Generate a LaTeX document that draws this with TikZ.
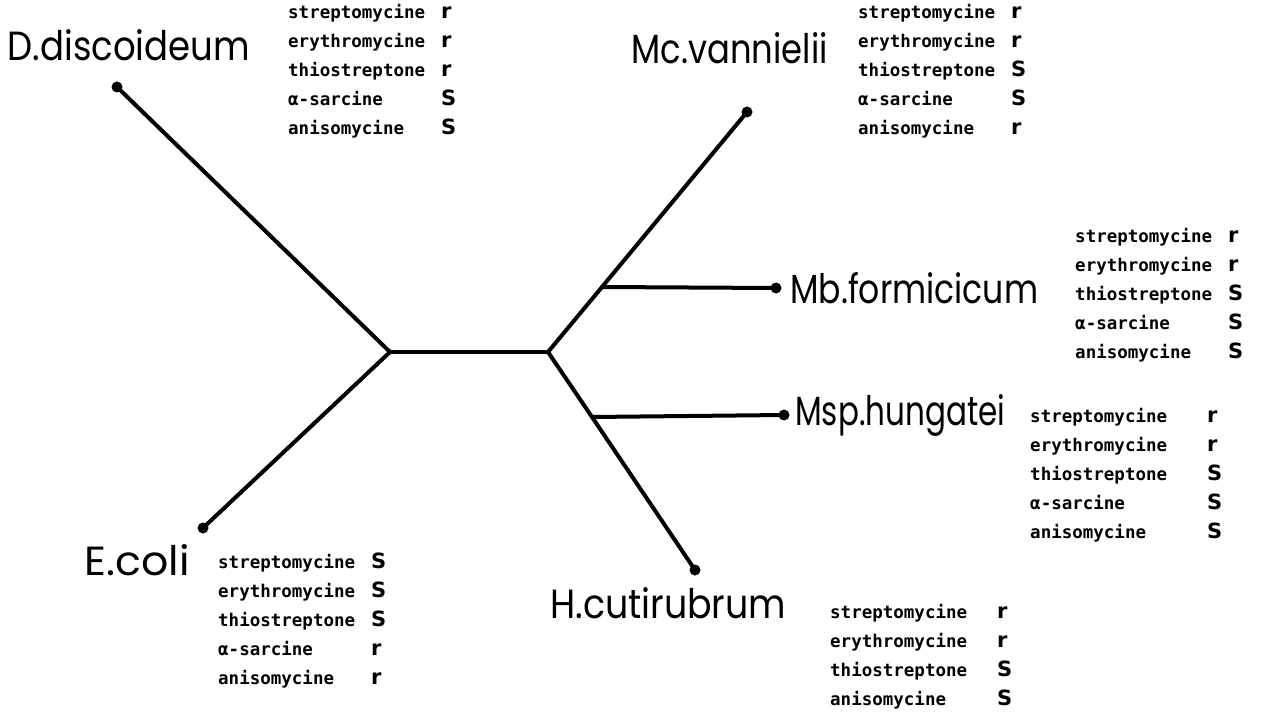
\documentclass[tikz,border=0pt]{standalone}
\usepackage{fontspec}
\usepackage{graphicx}
\newfontfamily\labfont{Poppins}
\newfontfamily\monofont{DejaVu Sans Mono}
\newfontfamily\symfont{DejaVu Sans}
\newcommand{\resR}{{\symfont\bfseries\fontsize{21}{21}\selectfont r}}
\newcommand{\resS}{{\symfont\bfseries\fontsize{21}{21}\selectfont S}}
\newcommand{\druglist}[2]{%
  \begin{tabular}{@{}l@{\hspace{#1}}l@{}}#2\end{tabular}}
\newcommand{\taxtext}[2]{\resizebox{#1}{31pt}{\labfont #2}}
\begin{document}
\begin{tikzpicture}[x=1pt,y=-1pt,
  branch/.style={line width=4pt, line cap=round},
  leaf/.style={circle, fill, inner sep=0pt, minimum size=11pt},
  taxon/.style={inner sep=0pt},
  drugs/.style={font=\monofont\bfseries\fontsize{17.5}{29}\selectfont, inner sep=0pt, anchor=north west, align=left}]
\useasboundingbox (0,0) rectangle (1281,722);
\fill[white] (0,0) rectangle (1281,722);
% internal nodes
\coordinate (L) at (390,352);
\coordinate (R) at (548,352);
\coordinate (U) at (602,287);
\coordinate (V) at (592,417);
% leaves
\node[leaf] (dD) at (117,87) {};
\node[leaf] (dE) at (203,528) {};
\node[leaf] (dMc) at (747,112) {};
\node[leaf] (dMb) at (776,288) {};
\node[leaf] (dMsp) at (784,415) {};
\node[leaf] (dH) at (695,570) {};
% branches
\draw[branch] (L) -- (R);
\draw[branch] (L) -- (dD.center);
\draw[branch] (L) -- (dE.center);
\draw[branch] (R) -- (U) -- (dMc.center);
\draw[branch] (U) -- (dMb.center);
\draw[branch] (R) -- (V) -- (dH.center);
\draw[branch] (V) -- (dMsp.center);
% taxon labels
\node[taxon, anchor=east] (tD) at (250,45) {\taxtext{242pt}{D.discoideum}};
\node[taxon, anchor=east] (tMc) at (828,48) {\taxtext{196pt}{Mc.vannielii}};
\node[taxon, anchor=west] (tMb) at (790,288) {\taxtext{248pt}{Mb.formicicum}};
\node[taxon, anchor=west] (tMsp) at (795,415) {\taxtext{210pt}{Msp.hungatei}};
\node[taxon, anchor=east] (tE) at (190,560) {\taxtext{105pt}{E.coli}};
\node[taxon, anchor=west] (tH) at (550,603) {\taxtext{236pt}{H.cutirubrum}};
% drug lists
\node[drugs] (lD) at (288,-2) {\druglist{16pt}{streptomycine & \resR\\ erythromycine & \resR\\ thiostreptone & \resR\\ α-sarcine & \resS\\ anisomycine & \resS}};
\node[drugs] (lMc) at (858,-2) {\druglist{16pt}{streptomycine & \resR\\ erythromycine & \resR\\ thiostreptone & \resS\\ α-sarcine & \resS\\ anisomycine & \resR}};
\node[drugs, anchor=west] (lMb) at (1075,295) {\druglist{16pt}{streptomycine & \resR\\ erythromycine & \resR\\ thiostreptone & \resS\\ α-sarcine & \resS\\ anisomycine & \resS}};
\node[drugs] (lMsp) at (1030,402) {\druglist{40pt}{streptomycine & \resR\\ erythromycine & \resR\\ thiostreptone & \resS\\ α-sarcine & \resS\\ anisomycine & \resS}};
\node[drugs] (lE) at (218,548) {\druglist{16pt}{streptomycine & \resS\\ erythromycine & \resS\\ thiostreptone & \resS\\ α-sarcine & \resR\\ anisomycine & \resR}};
\node[drugs] (lH) at (830,598) {\druglist{30pt}{streptomycine & \resR\\ erythromycine & \resR\\ thiostreptone & \resS\\ anisomycine & \resS}};
\end{tikzpicture}
\end{document}
